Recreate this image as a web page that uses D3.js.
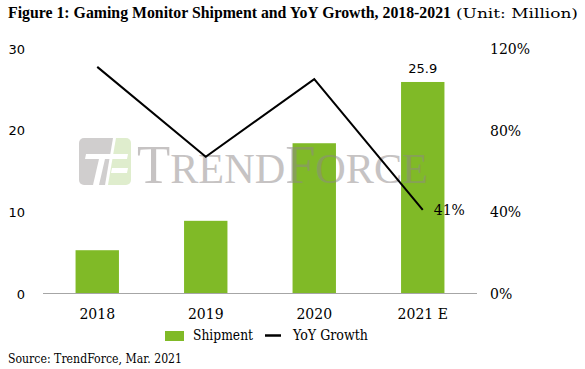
<!DOCTYPE html>
<html>
<head>
<meta charset="utf-8">
<script src="https://cdn.jsdelivr.net/npm/d3@7"></script>
<style>
  html, body { margin: 0; padding: 0; background: #fff; }
  svg { display: block; }
</style>
</head>
<body>
<svg id="chart" width="585" height="369"></svg>
<script>
const categories = ["2018", "2019", "2020", "2021 E"];
const shipment = [5.3, 8.9, 18.4, 25.9];
const yoyGrowth = [1.11, 0.67, 1.05, 0.41];
const leftTicks = [0, 10, 20, 30];
const rightTicks = [0, 0.4, 0.8, 1.2];
const titleBold = "Figure 1: Gaming Monitor Shipment and YoY Growth, 2018-2021";
const titleUnit = "(Unit: Million)";
const sourceText = "Source: TrendForce, Mar. 2021";

const svg = d3.select("#chart");
const serif = "'Liberation Serif', 'Times New Roman', serif";
const serif2 = "'DejaVu Serif', serif";
const sans = "'DejaVu Sans', Verdana, sans-serif";
const green = "#80ba27";

const x = d3.scaleBand().domain(categories).range([43, 477]).paddingInner(0.6).paddingOuter(0.3);
const yL = d3.scaleLinear().domain([0, 30]).range([293.5, 48.5]);
const yR = d3.scaleLinear().domain([0, 1.2]).range([293.5, 48.5]);

// Title
svg.append("text").attr("x", 8).attr("y", 18).attr("font-family", serif).attr("font-size", 16)
  .attr("font-weight", "bold").attr("textLength", 443).attr("lengthAdjust", "spacingAndGlyphs").text(titleBold);
svg.append("text").attr("x", 456).attr("y", 18).attr("font-family", serif2).attr("font-size", 13)
  .attr("textLength", 122).attr("lengthAdjust", "spacingAndGlyphs").text(titleUnit);

// Left axis labels
const axL = d3.axisLeft(yL).tickValues(leftTicks).tickSize(0).tickPadding(0).tickFormat(d3.format("d"));
const gL = svg.append("g").attr("transform", "translate(25,0)").call(axL);
gL.select(".domain").remove();
gL.selectAll("text").attr("font-family", sans).attr("font-size", 13).attr("fill", "#000").attr("dy", "0.36em");

// Right axis labels
const axR = d3.axisRight(yR).tickValues(rightTicks).tickSize(0).tickPadding(0).tickFormat(d3.format(".0%"));
const gR = svg.append("g").attr("transform", "translate(490,0)").call(axR);
gR.select(".domain").remove();
gR.selectAll("text").attr("font-family", serif2).attr("font-size", 14).attr("fill", "#000").attr("dy", "0.36em");

// Bars
svg.append("g").selectAll("rect").data(categories).join("rect")
  .attr("x", d => x(d)).attr("width", x.bandwidth())
  .attr("y", (d, i) => yL(shipment[i])).attr("height", (d, i) => yL(0) - yL(shipment[i]))
  .attr("fill", green);

// Baseline
svg.append("line").attr("x1", 43).attr("x2", 477).attr("y1", yL(0)).attr("y2", yL(0))
  .attr("stroke", "#a6a6a6").attr("stroke-width", 1);

// Watermark
const wm = svg.append("g").attr("opacity", 0.5);
const clip = svg.append("clipPath").attr("id", "logoClip");
clip.append("rect").attr("x", 79).attr("y", 138).attr("width", 52).attr("height", 47).attr("rx", 5);
const logo = wm.append("g").attr("clip-path", "url(#logoClip)");
logo.append("polygon").attr("points", "79,138 113,138 105,185 79,185").attr("fill", "#a39e9e");
logo.append("polygon").attr("points", "116,138 131,138 131,185 108,185").attr("fill", "#c0dd9c");
logo.append("polygon").attr("points", "86,154 128,154 127,159 85,159").attr("fill", "#fff");
logo.append("polygon").attr("points", "99,159 105,159 99,185 93,185").attr("fill", "#fff");
logo.append("polygon").attr("points", "112,168 128,168 127,173 111,173").attr("fill", "#fff");
const wt = wm.append("text").attr("x", 137).attr("y", 183).attr("font-family", serif).attr("fill", "#8e8888")
  .attr("textLength", 291).attr("lengthAdjust", "spacingAndGlyphs");
wt.append("tspan").attr("font-size", 54).text("T");
wt.append("tspan").attr("font-size", 42).text("REND");
wt.append("tspan").attr("font-size", 54).text("F");
wt.append("tspan").attr("font-size", 42).text("ORCE");

// Line
const line = d3.line().x((d, i) => x(categories[i]) + x.bandwidth() / 2).y(d => yR(d));
svg.append("path").datum(yoyGrowth).attr("d", line).attr("fill", "none")
  .attr("stroke", "#000").attr("stroke-width", 2).attr("stroke-linejoin", "miter");

// Data labels
const last = categories.length - 1;
svg.append("text").attr("x", x(categories[last]) + x.bandwidth() / 2).attr("y", 73)
  .attr("text-anchor", "middle").attr("font-family", sans).attr("font-size", 13).text(shipment[last].toFixed(1));
svg.append("text").attr("x", x(categories[last]) + x.bandwidth() / 2 + 11).attr("y", yR(yoyGrowth[last]) + 5)
  .attr("font-family", serif2).attr("font-size", 14).text(d3.format(".0%")(yoyGrowth[last]));

// Category labels
const axB = d3.axisBottom(x).tickSize(0).tickPadding(0);
const gB = svg.append("g").attr("transform", "translate(0,319)").call(axB);
gB.select(".domain").remove();
gB.selectAll("text").attr("font-family", serif2).attr("font-size", 14).attr("fill", "#000").attr("dy", 0);

// Legend
svg.append("rect").attr("x", 165).attr("y", 331).attr("width", 19).attr("height", 10).attr("fill", green);
svg.append("text").attr("x", 193).attr("y", 339.5).attr("font-family", serif2).attr("font-size", 14)
  .attr("textLength", 60).attr("lengthAdjust", "spacingAndGlyphs").text("Shipment");
svg.append("line").attr("x1", 265).attr("x2", 281).attr("y1", 335.5).attr("y2", 335.5).attr("stroke", "#000").attr("stroke-width", 2.5);
svg.append("text").attr("x", 293).attr("y", 339.5).attr("font-family", serif2).attr("font-size", 14)
  .attr("textLength", 75).attr("lengthAdjust", "spacingAndGlyphs").text("YoY Growth");

// Source
svg.append("text").attr("x", 8).attr("y", 363).attr("font-family", serif2).attr("font-size", 12)
  .attr("textLength", 174).attr("lengthAdjust", "spacingAndGlyphs").text(sourceText);
</script>
</body>
</html>
